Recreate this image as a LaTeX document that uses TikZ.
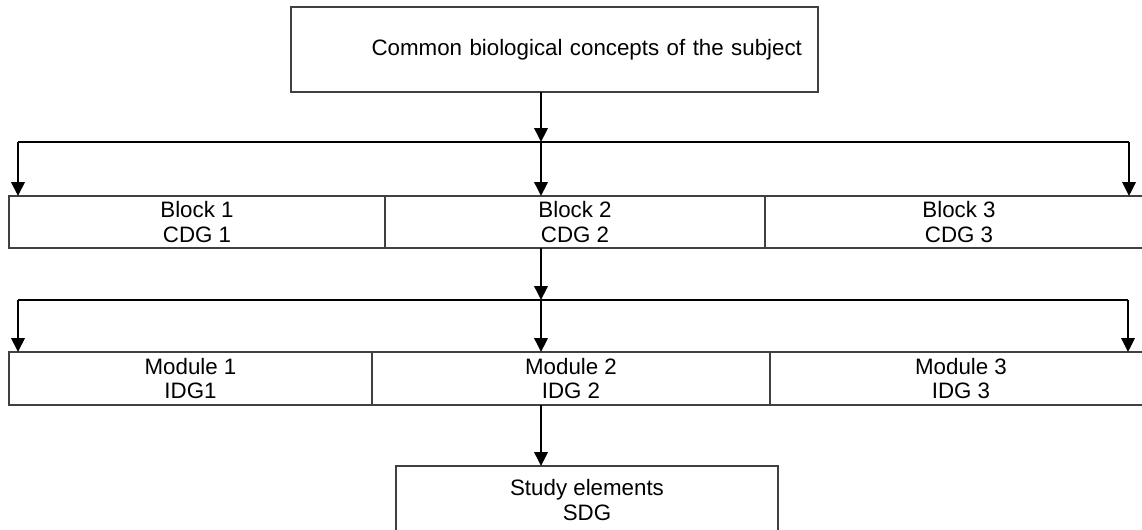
\documentclass[tikz,border=0pt]{standalone}
\usepackage{fontspec}
\setmainfont{Liberation Sans}
\usetikzlibrary{arrows.meta, positioning}
\definecolor{boxline}{HTML}{404040}

\begin{document}
\begin{tikzpicture}[
        node distance=0pt, % cells of a row touch
        box/.style={draw=boxline, line width=0.7pt, align=center, inner ysep=1pt, outer sep=0pt,
          font=\fontsize{12.7}{14.2}\selectfont},
        blockcell/.style={box, minimum height=1.04cm},
        modcell/.style={box, minimum height=1.06cm},
        link/.style={line width=1.1pt},
        arrow/.style={link, -{Triangle[length=0.28cm, width=0.27cm]}} % arrowhead style
      ]
      \useasboundingbox (0,0) rectangle (22.84,-10.58);

      % Nodes
      \node (top) [box, text width=9.9cm, inner xsep=0.32cm, minimum height=1.70cm, align=right]
        at (11.09,-0.99) {Common biological concepts of the subject};

      \node (B1) [blockcell, minimum width=7.52cm, anchor=north west] at (0.18,-3.92) {Block 1\\CDG 1};
      \node (B2) [blockcell, minimum width=7.60cm, right=of B1] {Block 2\\CDG 2};
      \node (B3) [blockcell, minimum width=7.76cm, right=of B2] {Block 3\\CDG 3};

      \node (M1) [modcell, minimum width=7.26cm, anchor=north west] at (0.18,-7.04) {Module 1\\IDG1};
      \node (M2) [modcell, minimum width=7.96cm, right=of M1] {Module 2\\IDG 2};
      \node (M3) [modcell, minimum width=7.64cm, right=of M2] {Module 3\\IDG 3};

      \node (study) [box, minimum width=7.64cm, minimum height=1.36cm, anchor=north]
        at (11.74,-9.32) {Study elements\\SDG};

      % Forks
      \coordinate (fork1) at (10.82,-2.84);
      \coordinate (fork1l) at (0.36,-2.84);
      \coordinate (fork1r) at (22.58,-2.84);
      \coordinate (fork2) at (10.82,-6.00);
      \coordinate (fork2l) at (0.36,-6.00);
      \coordinate (fork2r) at (22.56,-6.00);

      % Arrows
      \draw[arrow] (top.south -| fork1) -- (fork1);
      \draw[link] (fork1l) -- (fork1r);
      \draw[arrow] (fork1l) -- (fork1l |- B1.north);
      \draw[arrow] (fork1) -- (fork1 |- B2.north);
      \draw[arrow] (fork1r) -- (fork1r |- B3.north);

      \draw[arrow] (B2.south -| fork2) -- (fork2);
      \draw[link] (fork2l) -- (fork2r);
      \draw[arrow] (fork2l) -- (fork2l |- M1.north);
      \draw[arrow] (fork2) -- (fork2 |- M2.north);
      \draw[arrow] (fork2r) -- (fork2r |- M3.north);

      \draw[arrow] (M2.south -| fork2) -- (fork2 |- study.north);

    \end{tikzpicture}
\end{document}
